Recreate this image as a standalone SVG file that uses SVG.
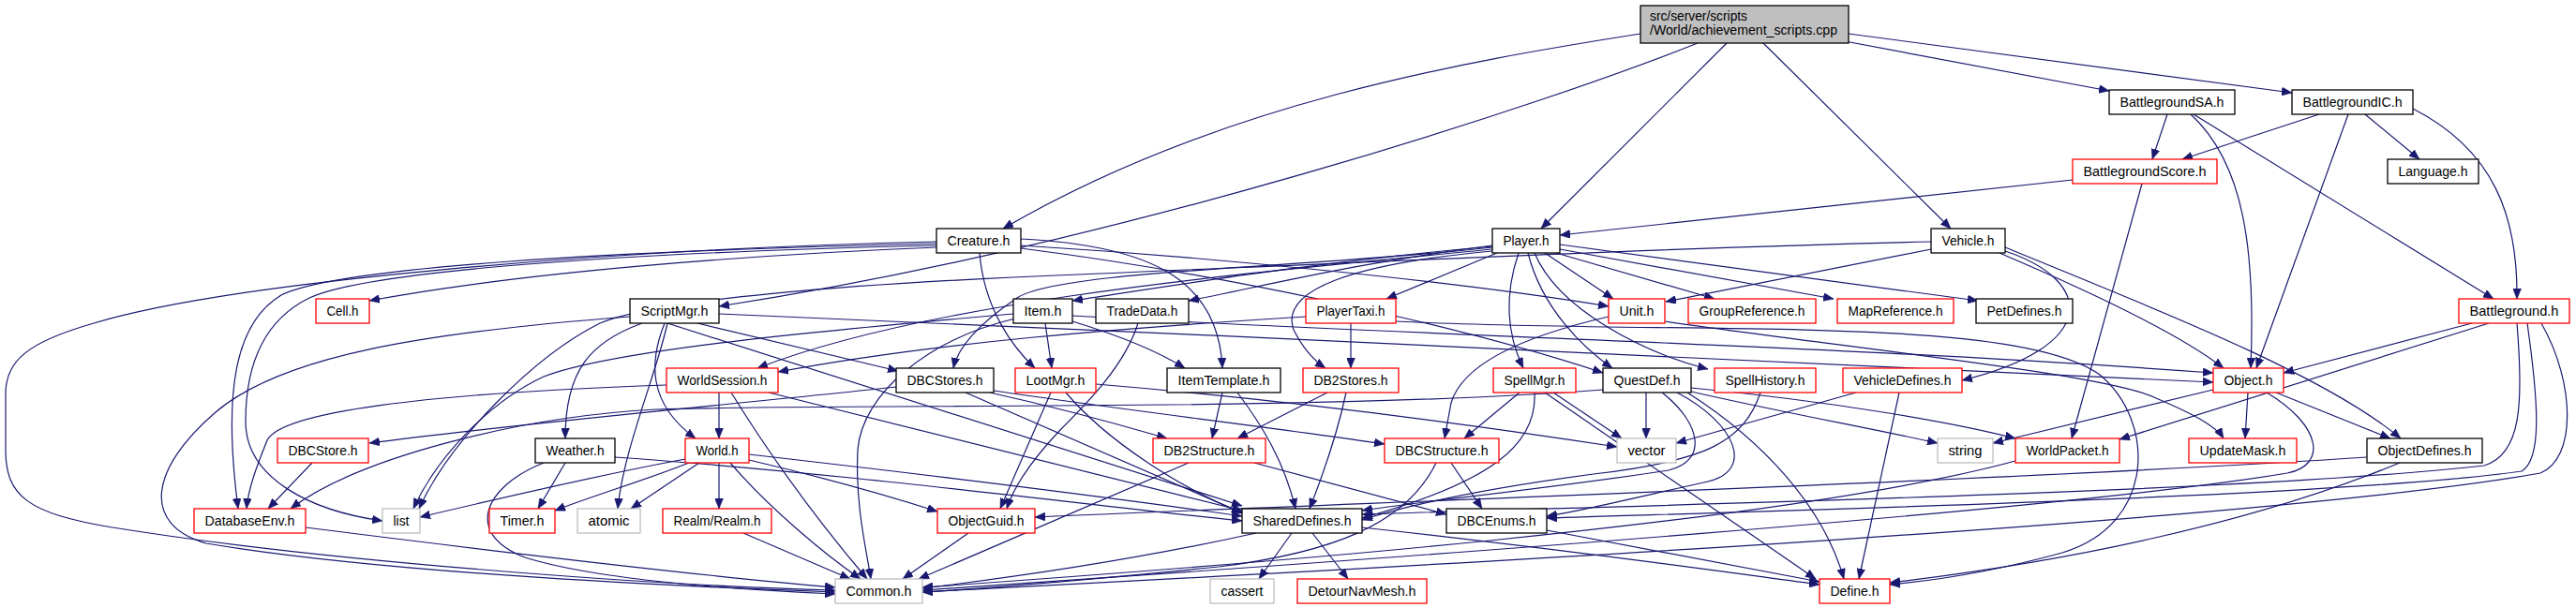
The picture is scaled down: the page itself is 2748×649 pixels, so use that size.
<svg xmlns="http://www.w3.org/2000/svg" width="2748" height="649" viewBox="0 0 2748 649">
<style>
rect{stroke-width:1.3}
.b rect{fill:#fff;stroke:#000}
.r rect{fill:#fff;stroke:#ff0000}
.g rect{fill:#fff;stroke:#bfbfbf}
.root rect{fill:#bfbfbf;stroke:#000}
text{font-family:"Liberation Sans",Arial,sans-serif;font-size:14px;fill:#000;text-anchor:middle}
.root text{text-anchor:start}
#edges path{fill:none;stroke:#191970;stroke-width:1.2;marker-end:url(#a)}
</style>
<defs>
<marker id="a" markerWidth="11" markerHeight="9" refX="11" refY="4.5" orient="auto" markerUnits="userSpaceOnUse">
<path d="M0,0 L11,4.5 L0,9 Z" fill="#191970" stroke="#191970" stroke-width="0.5"/>
</marker>
</defs>
<rect x="0" y="0" width="2748" height="649" fill="#fff" style="stroke:none"/>
<g id="edges">
<path d="M1750,36 C1560,66 1300,110 1070,244"/>
<path d="M1811,46 C1650,110 1200,260 767,327"/>
<path d="M1842,46 L1644,244"/>
<path d="M1881,46 L2081,244"/>
<path d="M1968,44 L2250,97"/>
<path d="M1972,36 L2445,99"/>
<path d="M2312,122 L2296,170"/>
<path d="M2337,122 C2395,175 2406,270 2401,393"/>
<path d="M2340,122 L2660,319"/>
<path d="M2474,122 L2328,170"/>
<path d="M2505,122 L2407,393"/>
<path d="M2523,122 L2581,170"/>
<path d="M2574,116 C2660,160 2686,230 2685,319"/>
<path d="M2211,192 L1664,251"/>
<path d="M2285,196 L2210,468"/>
<path d="M2637,345 L2436,398"/>
<path d="M2655,345 L2261,469"/>
<path d="M2685,345 C2692,430 2690,485 2650,497 C2400,525 1800,538 1453,549"/>
<path d="M2696,345 C2708,430 2712,490 2690,503 C2500,530 1900,545 1650,553"/>
<path d="M2711,345 C2748,410 2748,490 2710,505 C2400,560 1400,610 984,632"/>
<path d="M2060,266 L1777,322"/>
<path d="M2060,258 C1800,264 1500,278 1150,293 C900,303 700,320 640,345 C570,380 480,470 447,543"/>
<path d="M2139,268 C2235,300 2240,370 2093,406"/>
<path d="M2133,270 C2250,320 2330,360 2372,393"/>
<path d="M2139,264 C2300,330 2480,400 2561,468"/>
<path d="M1592,263 C1400,280 1250,305 1144,321"/>
<path d="M1592,262 C1450,280 1350,305 1268,321"/>
<path d="M1597,270 L1479,319"/>
<path d="M1592,268 C1440,282 1365,310 1380,352 C1390,372 1402,385 1414,393"/>
<path d="M1620,270 C1603,320 1610,362 1625,393"/>
<path d="M1630,270 C1645,330 1690,372 1720,393"/>
<path d="M1637,270 C1662,330 1752,376 1822,394"/>
<path d="M1648,270 L1721,319"/>
<path d="M1660,270 L1829,319"/>
<path d="M1664,266 L1956,319"/>
<path d="M1664,261 L2110,321"/>
<path d="M1592,266 C1350,290 1000,318 808,393"/>
<path d="M1592,264 C1400,286 1130,288 1085,318 C1045,345 1022,370 1017,393"/>
<path d="M999,264 C800,272 560,290 394,321"/>
<path d="M999,258 C650,266 250,300 100,345 C30,365 6,385 6,420 L6,480 C6,530 30,548 120,563 C350,600 700,625 891,630"/>
<path d="M999,260 C650,268 360,285 300,315 C250,345 238,420 254,543"/>
<path d="M999,262 C650,270 390,290 330,318 C275,345 262,400 262,450 C262,510 330,545 408,556"/>
<path d="M1089,255 C1230,262 1300,300 1304,393"/>
<path d="M1045,270 C1050,330 1080,370 1104,393"/>
<path d="M1089,262 C1300,275 1550,300 1716,327"/>
<path d="M1089,265 C1300,292 1550,345 1710,398"/>
<path d="M672,338 C450,355 300,380 230,440 C160,500 150,560 220,580 C400,610 700,625 891,632"/>
<path d="M685,345 C630,365 603,395 603,468"/>
<path d="M712,345 C700,400 665,480 659,543"/>
<path d="M709,345 C693,385 690,430 742,468"/>
<path d="M744,345 L958,396"/>
<path d="M712,345 L1325,540"/>
<path d="M767,335 C1300,358 1900,385 2361,408"/>
<path d="M1115,345 L1122,393"/>
<path d="M1144,343 C1200,360 1240,378 1264,393"/>
<path d="M1083,340 C990,362 920,420 915,480 C912,540 925,590 929,618"/>
<path d="M1081,335 C850,355 650,375 580,402 C520,430 465,490 441,543"/>
<path d="M1144,337 C1500,358 1950,368 2361,398"/>
<path d="M1214,345 C1200,390 1160,430 1130,460 C1100,492 1082,518 1074,543"/>
<path d="M1441,345 L1441,393"/>
<path d="M1393,338 C1200,350 1000,365 830,397"/>
<path d="M1489,343 C1800,358 2150,335 2240,400 C2300,450 2300,560 2200,590 C2120,612 2060,620 2016,624"/>
<path d="M1716,338 C1620,360 1560,390 1548,430 L1541,468"/>
<path d="M1776,343 C2000,375 2250,400 2300,425 C2340,442 2364,455 2372,468"/>
<path d="M767,419 L767,468"/>
<path d="M780,419 C830,500 880,565 925,618"/>
<path d="M820,419 L1325,545"/>
<path d="M711,411 C450,420 300,440 285,470 C275,495 265,520 263,543"/>
<path d="M956,413 C800,430 550,452 394,473"/>
<path d="M1030,419 L1326,548"/>
<path d="M1056,419 C1150,440 1200,455 1245,468"/>
<path d="M1060,417 C1200,438 1350,455 1477,474"/>
<path d="M1121,419 L1067,543"/>
<path d="M1137,419 C1180,470 1260,522 1325,547"/>
<path d="M1169,410 C1350,425 1550,450 1725,477"/>
<path d="M1304,419 L1293,468"/>
<path d="M1320,419 C1345,452 1370,492 1382,543"/>
<path d="M1416,419 L1320,468"/>
<path d="M1436,419 C1425,470 1410,510 1397,543"/>
<path d="M1621,419 L1562,468"/>
<path d="M1637,419 C1640,475 1590,515 1453,553"/>
<path d="M1648,419 L1937,618"/>
<path d="M1657,419 L1730,468"/>
<path d="M1756,419 L1756,468"/>
<path d="M1773,419 C1815,452 1822,492 1780,502 C1650,522 1500,537 1453,545"/>
<path d="M1789,419 C1852,452 1872,502 1822,514 C1750,530 1690,545 1650,551"/>
<path d="M1800,419 C1880,470 1945,540 1967,618"/>
<path d="M1710,416 C1400,440 900,430 700,437 C550,445 380,490 310,543"/>
<path d="M1804,418 C1900,440 2000,458 2067,473"/>
<path d="M1804,414 C1950,428 2080,450 2150,468"/>
<path d="M1878,419 C1860,472 1820,492 1700,506 C1580,522 1500,540 1453,555"/>
<path d="M2026,419 L1983,618"/>
<path d="M1980,419 L1788,473"/>
<path d="M2361,416 L2126,473"/>
<path d="M2398,419 L2395,468"/>
<path d="M2428,419 L2550,468"/>
<path d="M2418,419 C2478,455 2482,497 2440,505 C2200,545 1500,595 984,630"/>
<path d="M333,494 L286,543"/>
<path d="M603,494 L574,543"/>
<path d="M580,494 C515,520 495,570 560,595 C640,620 800,630 891,634"/>
<path d="M656,488 C900,505 1150,538 1325,556"/>
<path d="M731,490 C650,505 520,535 448,552"/>
<path d="M735,494 C690,512 630,530 592,545"/>
<path d="M746,494 L673,543"/>
<path d="M767,494 L767,543"/>
<path d="M779,494 C820,542 880,592 918,618"/>
<path d="M799,491 C880,510 950,530 1000,546"/>
<path d="M799,485 C1000,508 1200,533 1325,551"/>
<path d="M1268,494 L980,618"/>
<path d="M1338,494 L1543,549"/>
<path d="M1548,494 L1581,543"/>
<path d="M1532,494 C1500,560 1420,590 1300,605 C1150,620 1050,628 984,632"/>
<path d="M2150,492 C1900,560 1300,605 984,627"/>
<path d="M2560,494 C2400,560 2200,600 2016,622"/>
<path d="M2525,488 C2200,510 1500,535 1104,552"/>
<path d="M326,563 C500,585 750,615 891,627"/>
<path d="M793,569 L907,618"/>
<path d="M1033,569 L963,618"/>
<path d="M1340,569 C1200,600 1050,620 984,628"/>
<path d="M1378,569 L1343,618"/>
<path d="M1400,569 L1438,618"/>
<path d="M1453,563 C1700,590 1850,612 1941,624"/>
<path d="M1650,566 L1941,621"/>
</g>
<g id="root" class="root"><rect x="1750" y="6" width="222" height="40"/><text x="1760" y="22" textLength="104" lengthAdjust="spacingAndGlyphs">src/server/scripts</text><text x="1760" y="37" textLength="200" lengthAdjust="spacingAndGlyphs">/World/achievement_scripts.cpp</text></g>
<g id="n_Creature" class="b"><rect x="999" y="244" width="90" height="26"/><text x="1044" y="261.5" textLength="67" lengthAdjust="spacingAndGlyphs">Creature.h</text></g>
<g id="n_Player" class="b"><rect x="1592" y="244" width="72" height="26"/><text x="1628" y="261.5" textLength="49" lengthAdjust="spacingAndGlyphs">Player.h</text></g>
<g id="n_Vehicle" class="b"><rect x="2060" y="244" width="79" height="26"/><text x="2099.5" y="261.5" textLength="56" lengthAdjust="spacingAndGlyphs">Vehicle.h</text></g>
<g id="n_BattlegroundSA" class="b"><rect x="2250" y="96" width="134" height="26"/><text x="2317" y="113.5" textLength="111" lengthAdjust="spacingAndGlyphs">BattlegroundSA.h</text></g>
<g id="n_BattlegroundIC" class="b"><rect x="2445" y="96" width="129" height="26"/><text x="2509.5" y="113.5" textLength="106" lengthAdjust="spacingAndGlyphs">BattlegroundIC.h</text></g>
<g id="n_BattlegroundScore" class="r"><rect x="2211" y="170" width="154" height="26"/><text x="2288" y="187.5" textLength="131" lengthAdjust="spacingAndGlyphs">BattlegroundScore.h</text></g>
<g id="n_Language" class="b"><rect x="2547" y="170" width="97" height="26"/><text x="2595.5" y="187.5" textLength="74" lengthAdjust="spacingAndGlyphs">Language.h</text></g>
<g id="n_Cell" class="r"><rect x="337" y="319" width="57" height="26"/><text x="365.5" y="336.5" textLength="34" lengthAdjust="spacingAndGlyphs">Cell.h</text></g>
<g id="n_ScriptMgr" class="b"><rect x="672" y="319" width="95" height="26"/><text x="719.5" y="336.5" textLength="72" lengthAdjust="spacingAndGlyphs">ScriptMgr.h</text></g>
<g id="n_Item" class="b"><rect x="1081" y="319" width="63" height="26"/><text x="1112.5" y="336.5" textLength="40" lengthAdjust="spacingAndGlyphs">Item.h</text></g>
<g id="n_TradeData" class="b"><rect x="1169" y="319" width="99" height="26"/><text x="1218.5" y="336.5" textLength="76" lengthAdjust="spacingAndGlyphs">TradeData.h</text></g>
<g id="n_PlayerTaxi" class="r"><rect x="1393" y="319" width="96" height="26"/><text x="1441" y="336.5" textLength="73" lengthAdjust="spacingAndGlyphs">PlayerTaxi.h</text></g>
<g id="n_Unit" class="r"><rect x="1716" y="319" width="60" height="26"/><text x="1746" y="336.5" textLength="37" lengthAdjust="spacingAndGlyphs">Unit.h</text></g>
<g id="n_GroupReference" class="r"><rect x="1801" y="319" width="136" height="26"/><text x="1869" y="336.5" textLength="113" lengthAdjust="spacingAndGlyphs">GroupReference.h</text></g>
<g id="n_MapReference" class="r"><rect x="1960" y="319" width="124" height="26"/><text x="2022" y="336.5" textLength="101" lengthAdjust="spacingAndGlyphs">MapReference.h</text></g>
<g id="n_PetDefines" class="b"><rect x="2108" y="319" width="103" height="26"/><text x="2159.5" y="336.5" textLength="80" lengthAdjust="spacingAndGlyphs">PetDefines.h</text></g>
<g id="n_Battleground" class="r"><rect x="2623" y="319" width="118" height="26"/><text x="2682" y="336.5" textLength="95" lengthAdjust="spacingAndGlyphs">Battleground.h</text></g>
<g id="n_WorldSession" class="r"><rect x="711" y="393" width="119" height="26"/><text x="770.5" y="410.5" textLength="96" lengthAdjust="spacingAndGlyphs">WorldSession.h</text></g>
<g id="n_DBCStores" class="b"><rect x="956" y="393" width="104" height="26"/><text x="1008" y="410.5" textLength="81" lengthAdjust="spacingAndGlyphs">DBCStores.h</text></g>
<g id="n_LootMgr" class="r"><rect x="1083" y="393" width="86" height="26"/><text x="1126" y="410.5" textLength="63" lengthAdjust="spacingAndGlyphs">LootMgr.h</text></g>
<g id="n_ItemTemplate" class="b"><rect x="1245" y="393" width="121" height="26"/><text x="1305.5" y="410.5" textLength="98" lengthAdjust="spacingAndGlyphs">ItemTemplate.h</text></g>
<g id="n_DB2Stores" class="r"><rect x="1390" y="393" width="102" height="26"/><text x="1441" y="410.5" textLength="79" lengthAdjust="spacingAndGlyphs">DB2Stores.h</text></g>
<g id="n_SpellMgr" class="r"><rect x="1593" y="393" width="88" height="26"/><text x="1637" y="410.5" textLength="65" lengthAdjust="spacingAndGlyphs">SpellMgr.h</text></g>
<g id="n_QuestDef" class="b"><rect x="1710" y="393" width="94" height="26"/><text x="1757" y="410.5" textLength="71" lengthAdjust="spacingAndGlyphs">QuestDef.h</text></g>
<g id="n_SpellHistory" class="r"><rect x="1829" y="393" width="108" height="26"/><text x="1883" y="410.5" textLength="85" lengthAdjust="spacingAndGlyphs">SpellHistory.h</text></g>
<g id="n_VehicleDefines" class="r"><rect x="1966" y="393" width="127" height="26"/><text x="2029.5" y="410.5" textLength="104" lengthAdjust="spacingAndGlyphs">VehicleDefines.h</text></g>
<g id="n_Object" class="r"><rect x="2361" y="393" width="75" height="26"/><text x="2398.5" y="410.5" textLength="52" lengthAdjust="spacingAndGlyphs">Object.h</text></g>
<g id="n_DBCStore" class="r"><rect x="296" y="468" width="97" height="26"/><text x="344.5" y="485.5" textLength="74" lengthAdjust="spacingAndGlyphs">DBCStore.h</text></g>
<g id="n_Weather" class="b"><rect x="571" y="468" width="85" height="26"/><text x="613.5" y="485.5" textLength="62" lengthAdjust="spacingAndGlyphs">Weather.h</text></g>
<g id="n_World" class="r"><rect x="731" y="468" width="68" height="26"/><text x="765" y="485.5" textLength="45" lengthAdjust="spacingAndGlyphs">World.h</text></g>
<g id="n_DB2Structure" class="r"><rect x="1230" y="468" width="120" height="26"/><text x="1290" y="485.5" textLength="97" lengthAdjust="spacingAndGlyphs">DB2Structure.h</text></g>
<g id="n_DBCStructure" class="r"><rect x="1477" y="468" width="122" height="26"/><text x="1538" y="485.5" textLength="99" lengthAdjust="spacingAndGlyphs">DBCStructure.h</text></g>
<g id="n_vector" class="g"><rect x="1725" y="468" width="63" height="26"/><text x="1756.5" y="485.5" textLength="40" lengthAdjust="spacingAndGlyphs">vector</text></g>
<g id="n_string" class="g"><rect x="2067" y="468" width="59" height="26"/><text x="2096.5" y="485.5" textLength="36" lengthAdjust="spacingAndGlyphs">string</text></g>
<g id="n_WorldPacket" class="r"><rect x="2150" y="468" width="111" height="26"/><text x="2205.5" y="485.5" textLength="88" lengthAdjust="spacingAndGlyphs">WorldPacket.h</text></g>
<g id="n_UpdateMask" class="r"><rect x="2335" y="468" width="115" height="26"/><text x="2392.5" y="485.5" textLength="92" lengthAdjust="spacingAndGlyphs">UpdateMask.h</text></g>
<g id="n_ObjectDefines" class="b"><rect x="2525" y="468" width="123" height="26"/><text x="2586.5" y="485.5" textLength="100" lengthAdjust="spacingAndGlyphs">ObjectDefines.h</text></g>
<g id="n_DatabaseEnv" class="r"><rect x="207" y="543" width="119" height="26"/><text x="266.5" y="560.5" textLength="96" lengthAdjust="spacingAndGlyphs">DatabaseEnv.h</text></g>
<g id="n_list" class="g"><rect x="408" y="543" width="40" height="26"/><text x="428" y="560.5" textLength="17" lengthAdjust="spacingAndGlyphs">list</text></g>
<g id="n_Timer" class="r"><rect x="522" y="543" width="70" height="26"/><text x="557" y="560.5" textLength="47" lengthAdjust="spacingAndGlyphs">Timer.h</text></g>
<g id="n_atomic" class="g"><rect x="616" y="543" width="67" height="26"/><text x="649.5" y="560.5" textLength="44" lengthAdjust="spacingAndGlyphs">atomic</text></g>
<g id="n_Realm" class="r"><rect x="707" y="543" width="116" height="26"/><text x="765" y="560.5" textLength="93" lengthAdjust="spacingAndGlyphs">Realm/Realm.h</text></g>
<g id="n_ObjectGuid" class="r"><rect x="1000" y="543" width="104" height="26"/><text x="1052" y="560.5" textLength="81" lengthAdjust="spacingAndGlyphs">ObjectGuid.h</text></g>
<g id="n_SharedDefines" class="b"><rect x="1325" y="543" width="128" height="26"/><text x="1389" y="560.5" textLength="105" lengthAdjust="spacingAndGlyphs">SharedDefines.h</text></g>
<g id="n_DBCEnums" class="b"><rect x="1543" y="543" width="107" height="26"/><text x="1596.5" y="560.5" textLength="84" lengthAdjust="spacingAndGlyphs">DBCEnums.h</text></g>
<g id="n_Common" class="g"><rect x="891" y="618" width="93" height="26"/><text x="937.5" y="635.5" textLength="70" lengthAdjust="spacingAndGlyphs">Common.h</text></g>
<g id="n_cassert" class="g"><rect x="1291" y="618" width="68" height="26"/><text x="1325" y="635.5" textLength="45" lengthAdjust="spacingAndGlyphs">cassert</text></g>
<g id="n_DetourNavMesh" class="r"><rect x="1384" y="618" width="138" height="26"/><text x="1453" y="635.5" textLength="115" lengthAdjust="spacingAndGlyphs">DetourNavMesh.h</text></g>
<g id="n_Define" class="r"><rect x="1941" y="618" width="75" height="26"/><text x="1978.5" y="635.5" textLength="52" lengthAdjust="spacingAndGlyphs">Define.h</text></g>
</svg>
